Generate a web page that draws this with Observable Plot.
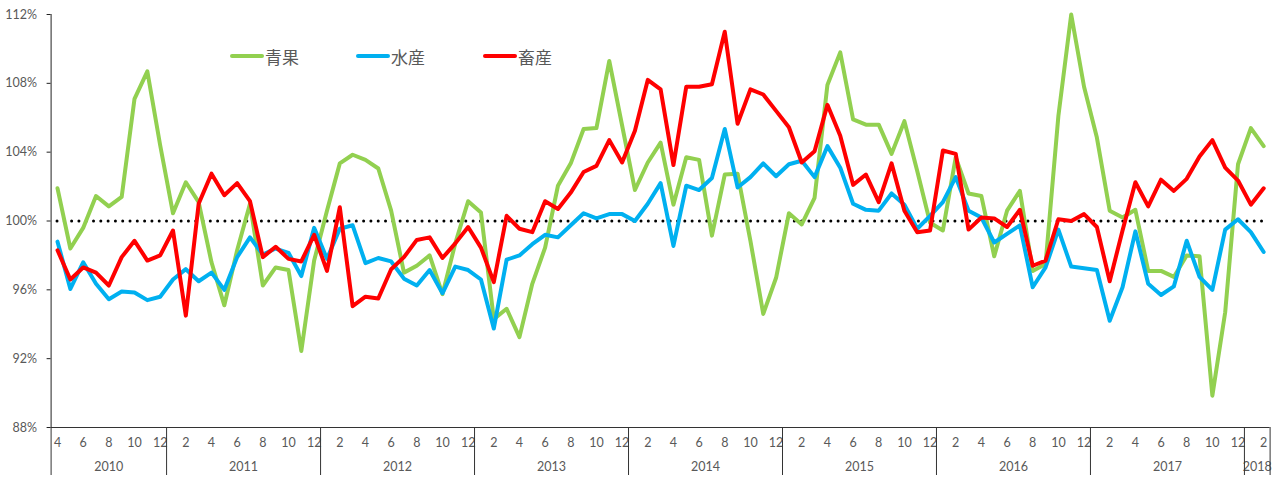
<!DOCTYPE html>
<html>
<head>
<meta charset="utf-8">
<script src="https://cdn.jsdelivr.net/npm/d3@7"></script>
<script src="https://cdn.jsdelivr.net/npm/@observablehq/plot@0.6"></script>
<style>
  html, body { margin: 0; padding: 0; background: #fff; }
  #wrap { position: relative; width: 1279px; height: 477px; }
  .leg { position: absolute; top: 45px; height: 22px; display: flex; align-items: center;
         font-family: "Noto Sans CJK JP", "Noto Sans CJK SC", sans-serif; font-size: 17px; color: #595959; }
  .leg svg { display: block; margin-right: 1px; }
</style>
</head>
<body>
<div id="wrap"></div>
<script>
// ---- categories (year-month) ----
const periods = [
  "2010-04","2010-05","2010-06","2010-07","2010-08","2010-09","2010-10","2010-11","2010-12",
  "2011-01","2011-02","2011-03","2011-04","2011-05","2011-06","2011-07","2011-08","2011-09","2011-10","2011-11","2011-12",
  "2012-01","2012-02","2012-03","2012-04","2012-05","2012-06","2012-07","2012-08","2012-09","2012-10","2012-11","2012-12",
  "2013-01","2013-02","2013-03","2013-04","2013-05","2013-06","2013-07","2013-08","2013-09","2013-10","2013-11","2013-12",
  "2014-01","2014-02","2014-03","2014-04","2014-05","2014-06","2014-07","2014-08","2014-09","2014-10","2014-11","2014-12",
  "2015-01","2015-02","2015-03","2015-04","2015-05","2015-06","2015-07","2015-08","2015-09","2015-10","2015-11","2015-12",
  "2016-01","2016-02","2016-03","2016-04","2016-05","2016-06","2016-07","2016-08","2016-09","2016-10","2016-11","2016-12",
  "2017-01","2017-02","2017-03","2017-04","2017-05","2017-06","2017-07","2017-08","2017-09","2017-10","2017-11","2017-12",
  "2018-01","2018-02"
];

// ---- series values (%) ----
const seika = [
  101.9, 98.4, 99.6, 101.45, 100.85, 101.4, 107.1, 108.7, 104.4, 100.45, 102.25, 101.1,
  97.6, 95.1, 98.3, 101.0, 96.25, 97.3, 97.15, 92.45, 97.7, 100.6, 103.35, 103.85,
  103.55, 103.05, 100.6, 97.0, 97.4, 98.0, 95.75, 98.7, 101.15, 100.5, 94.3, 94.9,
  93.25, 96.35, 98.45, 102.05, 103.35, 105.35, 105.4, 109.3, 105.55, 101.8, 103.4, 104.55,
  100.95, 103.7, 103.55, 99.15, 102.7, 102.75, 98.85, 94.6, 96.7, 100.45, 99.8, 101.35,
  107.9, 109.8, 105.9, 105.6, 105.6, 103.9, 105.8, 102.9, 99.9, 99.45, 103.7, 101.6,
  101.45, 97.95, 100.6, 101.75, 97.1, 97.5, 106.1, 112.0, 107.8, 104.85, 100.6, 100.2,
  100.65, 97.1, 97.1, 96.75, 98.0, 97.95, 89.85, 94.7, 103.3, 105.4, 104.35
];
const suisan = [
  98.8, 96.05, 97.6, 96.35, 95.45, 95.9, 95.85, 95.4, 95.6, 96.6, 97.2, 96.5,
  97.0, 96.0, 97.9, 99.05, 98.05, 98.4, 98.15, 96.8, 99.6, 97.8, 99.55, 99.75,
  97.55, 97.85, 97.65, 96.65, 96.25, 97.15, 95.8, 97.35, 97.15, 96.6, 93.75, 97.75,
  98.0, 98.65, 99.2, 99.05, 99.75, 100.45, 100.15, 100.4, 100.4, 100.0, 101.0, 102.2,
  98.55, 102.05, 101.8, 102.5, 105.35, 101.95, 102.55, 103.35, 102.6, 103.3, 103.5, 102.55,
  104.35, 103.1, 101.0, 100.65, 100.6, 101.6, 100.95, 99.55, 100.3, 101.1, 102.55, 100.6,
  100.2, 98.75, 99.25, 99.75, 96.15, 97.3, 99.5, 97.35, 97.25, 97.15, 94.2, 96.15,
  99.4, 96.35, 95.7, 96.2, 98.85, 96.75, 96.0, 99.5, 100.1, 99.35, 98.2
];
const chikusan = [
  98.3, 96.6, 97.3, 97.0, 96.25, 97.9, 98.85, 97.7, 98.0, 99.45, 94.5, 101.0,
  102.75, 101.5, 102.2, 101.15, 97.9, 98.5, 97.8, 97.65, 99.2, 97.1, 100.8, 95.05,
  95.6, 95.5, 97.2, 97.9, 98.9, 99.05, 97.85, 98.7, 99.65, 98.45, 96.45, 100.3,
  99.55, 99.35, 101.15, 100.7, 101.65, 102.85, 103.2, 104.7, 103.4, 105.25, 108.2, 107.65,
  103.25, 107.8, 107.8, 107.95, 111.0, 105.65, 107.65, 107.35, 106.4, 105.45, 103.4, 104.05,
  106.75, 104.95, 102.1, 102.7, 101.1, 103.35, 100.6, 99.35, 99.45, 104.1, 103.9, 99.5,
  100.2, 100.15, 99.65, 100.65, 97.4, 97.7, 100.1, 100.0, 100.4, 99.65, 96.5, 99.45,
  102.25, 100.85, 102.4, 101.75, 102.45, 103.75, 104.7, 103.1, 102.35, 100.95, 101.9
];

const seriesNames = ["青果", "水産", "畜産"];
const seriesColors = ["#92D050", "#00B0F0", "#FF0000"];
const seriesValues = [seika, suisan, chikusan];

// ---- tick labels ----
const yTicks = [88, 92, 96, 100, 104, 108, 112];
const baseline = 100;

// ---- derived tables ----
const idx = periods.map((_, i) => i);
const rows = seriesNames.flatMap((name, s) =>
  seriesValues[s].map((v, i) => ({ i, v, name })));

const yearOf = p => p.slice(0, 4);
const monthOf = p => String(+p.slice(5, 7));
const years = Array.from(new Set(periods.map(yearOf)));
const yearGroups = years.map(y => {
  const ii = idx.filter(i => yearOf(periods[i]) === y);
  return { year: y, first: ii[0], last: ii[ii.length - 1], center: (ii[0] + ii[ii.length - 1]) / 2 };
});
const boundaries = [yearGroups[0].first - 0.5, ...yearGroups.map(g => g.last + 0.5)];
const monthTicks = idx.filter(i => i % 2 === 0);
const centerToYear = new Map(yearGroups.map(g => [g.center, g.year]));

const chart = Plot.plot({
  width: 1279,
  height: 477,
  marginLeft: 50.6,
  marginRight: 9.4,
  marginTop: 14,
  marginBottom: 50,
  x: { domain: [-0.5, periods.length - 0.5] },
  y: { domain: [yTicks[0], yTicks[yTicks.length - 1]] },
  color: { domain: seriesNames, range: seriesColors },
  style: { fontFamily: "Lato, 'Open Sans', sans-serif", fontSize: "12.5px", background: "#fff", overflow: "visible" },
  marks: [
    Plot.axisY({ ticks: yTicks, tickFormat: d => d + "%", tickSize: 4, tickPadding: 10,
                 label: null, fill: "#595959", stroke: "#222" }),
    Plot.axisX({ ticks: monthTicks, tickFormat: i => monthOf(periods[i]), tickSize: 0, tickPadding: 11,
                 label: null, fill: "#595959" }),
    Plot.axisX({ ticks: yearGroups.map(g => g.center), tickFormat: c => centerToYear.get(c),
                 tickSize: 0, tickPadding: 35, label: null, fill: "#595959" }),
    Plot.axisX({ ticks: boundaries, tickFormat: () => "", tickSize: 48, label: null, stroke: "#333" }),
    Plot.ruleX([boundaries[0]], { stroke: "#222", strokeWidth: 1 }),
    Plot.ruleY([yTicks[0]], { stroke: "#333", strokeWidth: 1 }),
    Plot.ruleY([baseline], { x1: idx[0], x2: idx[idx.length - 1], stroke: "#000", strokeWidth: 3,
                             strokeDasharray: "0 7.3", strokeLinecap: "round" }),
    Plot.line(rows, { x: "i", y: "v", z: "name", stroke: "name", strokeWidth: 4,
                      strokeLinejoin: "round", strokeLinecap: "round" })
  ]
});

const wrap = document.getElementById("wrap");
wrap.appendChild(chart);

// legend (HTML overlay)
const legendLeft = [230, 356, 483];
seriesNames.forEach((name, s) => {
  const d = document.createElement("div");
  d.className = "leg";
  d.style.left = legendLeft[s] + "px";
  d.innerHTML = `<svg width="34" height="8"><line x1="2" y1="4" x2="32" y2="4" stroke="${seriesColors[s]}" stroke-width="4" stroke-linecap="round"/></svg><span>${name}</span>`;
  wrap.appendChild(d);
});
</script>
</body>
</html>
